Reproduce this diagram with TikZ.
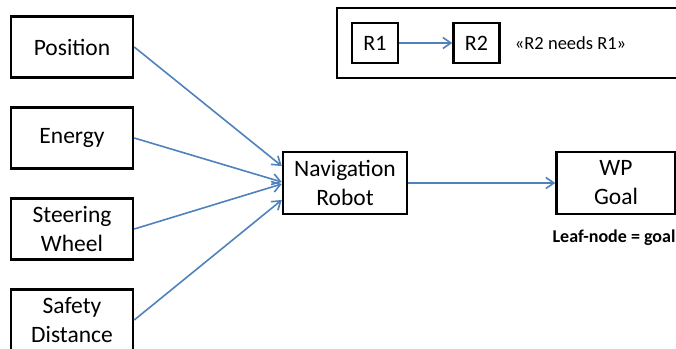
\documentclass[tikz,border=0pt]{standalone}
\usepackage{fontspec}
\setmainfont{Carlito}
\usetikzlibrary{positioning, arrows.meta}
\definecolor{linkblue}{HTML}{4F81BD}
\tikzset{
box/.style={draw, line width=2.5pt, minimum width=122pt, minimum height=61pt, inner sep=0pt, align=center, font=\fontsize{23.5}{29}\selectfont}, % the black requirement boxes
keybox/.style={box, minimum width=46pt, minimum height=40pt, font=\fontsize{22}{26}\selectfont}, % small boxes in the key
link/.style={-{Straight Barb[length=8pt,width=11pt]}, line width=1.6pt, draw=linkblue}, % blue "needs" arrows
note/.style={inner sep=0pt, font=\fontsize{18.5}{22}\selectfont}, % small text
node distance=27.5pt, % gap between the boxes on the left
}

\begin{document}
\begin{tikzpicture}[x=1pt,y=-1pt]
\useasboundingbox (0,0) rectangle (676,348);
% key
\node[draw, line width=1.2pt, minimum width=343pt, minimum height=70pt, inner sep=0pt] (key) at (508.5,43) {};
\node[keybox] (r1) at (375,43) {R1};
\node[keybox, right=53pt of r1] (r2) {R2};
\node[note, right=14pt of r2] (needs) {«R2 needs R1»};
% requirements
\node[box] (pos) at (72,47) {Position};
\node[box, below=of pos] (energy) {Energy};
\node[box, below=of energy] (steer) {Steering\\Wheel};
\node[box, below=of steer] (safety) {Safety\\Distance};
\node[box, minimum width=124pt, minimum height=62pt] (nav) at (345,183) {Navigation\\Robot};
\node[box, minimum width=119pt, minimum height=62pt, right=147pt of nav] (wp) {WP\\Goal};
\node[note, font=\fontsize{18}{22}\selectfont\bfseries] (leaf) at (614,238) {Leaf-node = goal};
\draw
(r1) edge[link] (r2)
(pos.east) edge[link] ([yshift=17pt]nav.west)
(energy.east) edge[link] ([yshift=1pt]nav.west)
(steer.east) edge[link] ([yshift=-1pt]nav.west)
(safety.east) edge[link] ([yshift=-17pt]nav.west)
(nav) edge[link] (wp);
\end{tikzpicture}
\end{document}
